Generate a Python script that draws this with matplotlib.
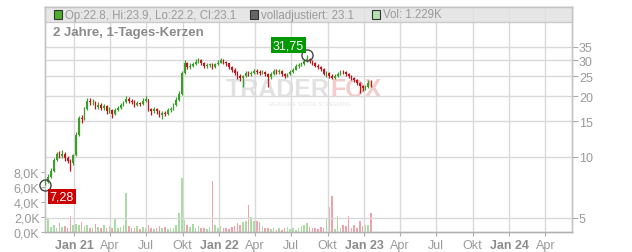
import datetime as dt

import matplotlib
matplotlib.use("Agg")
import matplotlib.dates as mdates
import matplotlib.pyplot as plt
import pandas as pd
from matplotlib.patches import Rectangle
from matplotlib.ticker import FixedLocator, NullLocator

plt.rcParams["font.family"] = ["Liberation Sans", "DejaVu Sans"]

# weekly candles
first_week = "2020-10-21"
first_open = 7.3
closes = [
    7.5, 8.0, 8.5, 9.7, 10.3, 10.1, 10.4, 9.9, 9.6, 9.3,
    10.2, 12.9, 15.6, 15.4, 17.2, 18.9, 18.6, 18.8, 17.6, 18.1,
    17.5, 17.8, 16.9, 17.1, 16.4, 17.0, 17.4, 18.0, 18.6, 19.4,
    19.0, 18.8, 18.1, 18.4, 18.3, 19.0, 19.3, 17.2, 16.8, 17.2,
    16.9, 16.2, 16.5, 16.4, 17.0, 17.2, 18.1, 19.2, 20.5, 26.0,
    29.0, 27.8, 28.3, 28.9, 29.6, 30.2, 29.1, 28.0, 28.6, 28.6,
    27.9, 28.7, 29.3, 30.0, 29.4, 29.0, 27.9, 27.0, 26.0, 25.2,
    24.5, 25.1, 26.0, 25.6, 26.1, 26.6, 26.3, 26.0, 26.4, 25.7,
    24.8, 25.6, 26.6, 26.2, 26.5, 25.7, 25.2, 25.6, 26.2, 27.0,
    28.0, 28.4, 28.8, 29.9, 30.6, 29.7, 29.2, 28.3, 27.8, 27.2,
    25.8, 26.0, 25.2, 24.7, 25.0, 25.6, 26.4, 26.2, 25.6, 25.0,
    24.6, 24.0, 23.3, 22.5, 21.8, 22.2, 23.3, 23.1,
]
highs = [
    7.7, 8.2, 8.8, 9.9, 10.6, 10.7, 10.8, 10.6, 10.1, 9.8,
    10.4, 13.3, 16.0, 16.1, 17.6, 19.5, 19.6, 19.4, 19.0, 18.6,
    18.4, 18.3, 18.0, 17.6, 17.3, 17.4, 17.9, 18.4, 19.0, 20.0,
    19.8, 19.4, 19.1, 18.9, 18.8, 19.5, 20.0, 19.4, 17.5, 17.6,
    17.5, 17.1, 16.9, 16.9, 17.4, 17.6, 18.5, 19.7, 21.2, 26.5,
    30.2, 29.4, 29.0, 29.6, 30.4, 31.0, 30.5, 29.4, 29.3, 29.2,
    29.0, 29.3, 30.0, 30.8, 30.5, 29.9, 29.3, 28.3, 27.4, 26.5,
    25.6, 25.5, 26.5, 26.6, 26.7, 27.3, 27.1, 26.9, 27.0, 26.7,
    26.0, 26.2, 27.3, 27.1, 27.2, 26.8, 26.0, 26.1, 26.8, 27.6,
    28.7, 29.1, 29.6, 30.6, 31.75, 31.0, 30.2, 29.5, 28.7, 28.2,
    27.5, 26.6, 26.3, 25.6, 25.6, 26.2, 27.0, 26.9, 26.6, 25.9,
    25.4, 24.9, 24.3, 23.6, 22.8, 22.7, 23.9, 23.9,
]
lows = [
    7.28, 7.4, 7.9, 8.4, 9.6, 9.9, 9.9, 9.6, 9.3, 8.5,
    9.1, 10.1, 12.7, 14.8, 15.2, 17.0, 18.0, 18.1, 17.2, 17.3,
    17.0, 17.1, 16.4, 16.5, 15.6, 16.1, 16.8, 17.2, 17.8, 18.4,
    18.5, 18.2, 17.7, 17.8, 17.9, 18.1, 18.6, 16.9, 16.2, 16.5,
    16.4, 15.7, 15.4, 15.9, 16.2, 16.7, 17.0, 17.9, 19.0, 20.3,
    25.8, 27.1, 27.3, 27.9, 28.5, 29.2, 28.6, 27.4, 27.6, 27.9,
    27.3, 27.6, 28.4, 29.0, 28.8, 28.2, 27.3, 26.2, 25.4, 24.4,
    23.8, 22.2, 24.8, 25.0, 25.2, 25.8, 25.7, 25.4, 25.6, 25.0,
    22.2, 24.4, 25.3, 25.7, 25.8, 25.0, 24.5, 24.8, 25.3, 25.9,
    26.8, 27.6, 28.0, 28.5, 29.5, 29.2, 28.6, 27.7, 27.2, 26.6,
    25.3, 24.9, 24.6, 24.2, 24.3, 24.8, 25.3, 25.7, 25.1, 24.5,
    24.0, 23.4, 22.8, 20.6, 21.2, 21.4, 22.0, 22.2,
]
volumes_k = [
    0.8, 1.8, 0.7, 0.9, 0.6, 1.2, 0.7, 0.8, 0.5, 2.1,
    1.0, 1.1, 0.9, 1.3, 0.8, 0.9, 0.6, 0.5, 1.1, 0.7,
    0.6, 0.9, 0.5, 0.8, 0.6, 1.7, 0.5, 0.7, 0.9, 5.2,
    0.8, 0.6, 0.5, 0.8, 0.4, 0.7, 0.6, 0.9, 0.5, 0.4,
    0.6, 0.8, 0.5, 0.7, 0.4, 0.6, 0.5, 0.9, 2.6, 7.2,
    1.6, 0.9, 0.7, 1.1, 0.6, 0.8, 0.5, 0.6, 0.4, 0.7,
    6.9, 0.9, 0.6, 0.8, 0.5, 0.6, 0.4, 0.7, 0.8, 1.2,
    1.0, 1.4, 1.5, 3.6, 2.0, 1.5, 1.5, 1.4, 0.8, 0.5,
    0.6, 0.4, 0.5, 0.3, 0.6, 0.3, 0.5, 0.7, 0.4, 0.6,
    0.3, 0.5, 0.8, 0.9, 1.2, 0.7, 0.5, 0.6, 0.4, 0.7,
    0.5, 1.7, 3.4, 4.8, 0.4, 2.1, 0.6, 0.9, 0.8, 2.2,
    0.6, 1.0, 0.5, 1.5, 0.8, 0.9, 1.0, 2.6,
]

price_ticks = [5, 10, 15, 20, 25, 30, 35]
vol_ticks = [0, 2, 4, 6, 8]
header_items = [
    ("Op:22.8, Hi:23.9, Lo:22.2, Cl:23.1", "#4caf2a"),
    ("volladjustiert: 23.1", "#666666"),
    ("Vol: 1.229K", "#b5e0b0"),
]
title = "2 Jahre, 1-Tages-Kerzen"
low_label = "7,28"
high_label = "31,75"

GREEN = "#3a9f28"
RED = "#c0151c"
VGREEN = "#a9dca2"
VRED = "#f0a2aa"
GRID = "#d9d9d9"
TXT = "#9a9a9a"

W, H = 632, 253


def fx(x):
    return x / W


def fy(y):
    return 1 - y / H


dates = pd.date_range(first_week, periods=len(closes), freq="7D")
opens = [first_open] + closes[:-1]

fig = plt.figure(figsize=(W / 100, H / 100), dpi=100)
ax = fig.add_axes([fx(45), fy(233), fx(572) - fx(45), fy(8) - fy(233)])
vax = ax.twinx()
ax.set_zorder(vax.get_zorder() + 1)
ax.patch.set_visible(False)
vax.patch.set_facecolor("white")

# watermark sits on the back axes so candles draw over it
vax.text(fx(330), fy(90), "TRADER", fontsize=18, fontweight="bold",
         color="#e2e2e2", ha="right", va="center", transform=fig.transFigure)
vax.text(fx(330), fy(90), "FOX", fontsize=18, fontweight="bold",
         color="#f3cccc", ha="left", va="center", transform=fig.transFigure)
vax.text(fx(310), fy(105), "REALTIME STOCK SCREENING", fontsize=4,
         color="#e6e6e6", ha="center", va="center", transform=fig.transFigure)

# volume
vcolors = [VGREEN if c >= o else VRED for o, c in zip(opens, closes)]
vax.bar(dates, volumes_k, width=4.0, color=vcolors, linewidth=0)
vax.set_ylim(0, 30.25)

# candles
up = [c >= o for o, c in zip(opens, closes)]
colors = [GREEN if u else RED for u in up]
ax.vlines(dates, lows, highs, colors=colors, linewidth=0.9, zorder=3)
bottoms = [min(o, c) for o, c in zip(opens, closes)]
heights = [max(abs(c - o), 0.08) for o, c in zip(opens, closes)]
ax.bar(dates, heights, bottom=bottoms, width=4.0, color=colors,
       linewidth=0, zorder=3)

ax.set_yscale("log")
ax.set_ylim(4.26, 55.1)
ax.set_xlim(dt.date(2020, 10, 20), dt.date(2024, 6, 7))

# grid
ax.yaxis.set_major_locator(FixedLocator(price_ticks))
ax.yaxis.set_minor_locator(NullLocator())
quarters = pd.date_range("2021-01-01", "2024-04-01", freq="QS")
ax.xaxis.set_major_locator(FixedLocator(mdates.date2num(quarters)))
ax.grid(True, color=GRID, linewidth=1.0, zorder=0)
ax.set_axisbelow(True)
for a in (ax, vax):
    for s in a.spines.values():
        s.set_color("#c4c4c4")
        s.set_linewidth(1.0)
ax.spines["bottom"].set_color("#b0b0b0")

# right price labels
ax.yaxis.tick_right()
ax.set_yticks(price_ticks)
ax.set_yticklabels([str(t) for t in price_ticks])
ax.tick_params(axis="y", which="major", length=4, width=0.8, color="#aaaaaa",
               labelsize=9, labelcolor=TXT, pad=1)

# left volume labels
vax.yaxis.tick_left()
vax.set_yticks(vol_ticks)
vax.set_yticklabels([f"{v},0K" for v in vol_ticks])
vax.tick_params(axis="y", length=3, width=0.8, color="#aaaaaa",
                labelsize=9, labelcolor=TXT, pad=1)

# x labels
labels = []
for q in quarters:
    if q.month == 1:
        labels.append(f"Jan {q.year % 100:02d}")
    else:
        labels.append({4: "Apr", 7: "Jul", 10: "Okt"}[q.month])
ax.set_xticklabels(labels)
ax.tick_params(axis="x", length=3, width=0.8, color="#aaaaaa",
               labelsize=9, labelcolor=TXT, pad=2)
for lab in ax.get_xticklabels():
    if lab.get_text().startswith("Jan"):
        lab.set_fontweight("bold")
        lab.set_color("#8c8c8c")

# header band
fig.patches.append(Rectangle((fx(45), fy(23)), fx(572) - fx(45), fy(8) - fy(23),
                             transform=fig.transFigure, facecolor="#e2e2e2",
                             edgecolor="#c4c4c4", linewidth=1.0, alpha=0.85,
                             zorder=5))
hx = [54, 250, 372]
for (txt, col), x0 in zip(header_items, hx):
    fig.patches.append(Rectangle((fx(x0), fy(20)), fx(8), fy(11) - fy(20),
                                 transform=fig.transFigure, facecolor=col,
                                 edgecolor="#333333", linewidth=0.8, zorder=6))
    fig.text(fx(x0 + 11), fy(15.5), txt, fontsize=8.3, color=TXT,
             va="center", ha="left", zorder=7)

fig.text(fx(53), fy(33), title, fontsize=9.5, fontweight="bold",
         color="#8a8a8a", va="center", ha="left")

# min / max markers
i_lo = lows.index(min(lows))
i_hi = highs.index(max(highs))
ax.plot(dates[i_lo], lows[i_lo], "o", ms=8, mfc="none", mec="#444444",
        mew=1.0, zorder=5, clip_on=False)
ax.plot(dates[i_hi], highs[i_hi], "o", ms=8, mfc="none", mec="#444444",
        mew=1.0, zorder=5)
ax.annotate(low_label, (dates[i_lo], lows[i_lo]), xytext=(3, -4),
            textcoords="offset points", fontsize=9, color="white",
            ha="left", va="top",
            bbox=dict(boxstyle="square,pad=0.15", fc="#cc0000", ec="none"),
            zorder=6)
ax.annotate(high_label, (dates[i_hi], highs[i_hi]), xytext=(-2, 3),
            textcoords="offset points", fontsize=9, color="white",
            ha="right", va="bottom",
            bbox=dict(boxstyle="square,pad=0.15", fc="#009a00", ec="none"),
            zorder=6)

fig.savefig("out.png", dpi=100)
